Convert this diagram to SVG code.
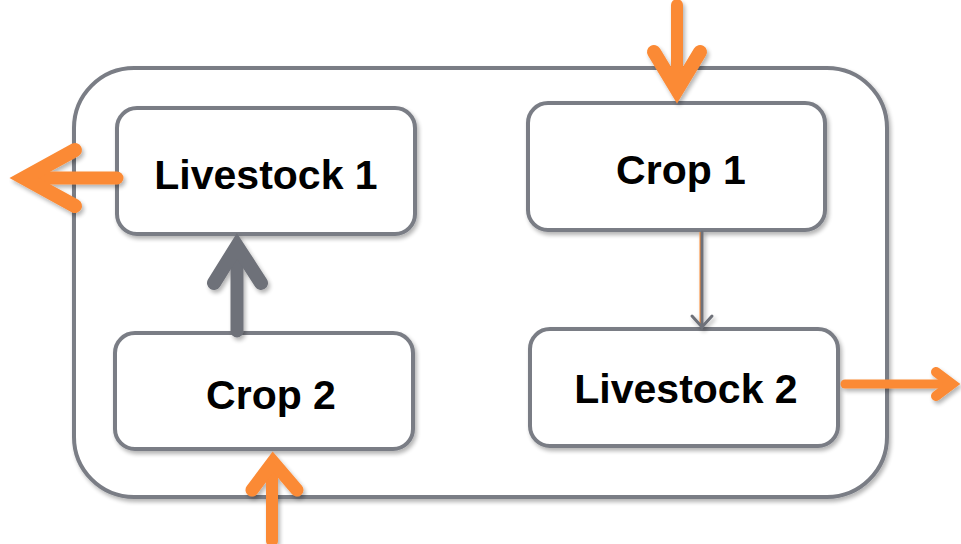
<svg xmlns="http://www.w3.org/2000/svg" width="961" height="544" viewBox="0 0 961 544">
<defs>
<filter id="sh" x="-10%" y="-10%" width="130%" height="130%">
<feGaussianBlur in="SourceAlpha" stdDeviation="2"/>
<feOffset dx="2" dy="3"/>
<feComponentTransfer><feFuncA type="linear" slope="0.3"/></feComponentTransfer>
<feMerge><feMergeNode/><feMergeNode in="SourceGraphic"/></feMerge>
</filter>
</defs>
<style>
.box{fill:#fff;stroke:#7a7d85;stroke-width:4}
.lbl{font-family:"Liberation Sans",Arial,sans-serif;font-weight:bold;font-size:41px;fill:#000;text-anchor:middle}
.or{fill:none;stroke:#fb8a35;stroke-linecap:round;stroke-linejoin:miter}
.gr{fill:none;stroke:#6e7179;stroke-linecap:round}
</style>
<g id="container">
<rect x="74" y="68" width="813" height="429" rx="60" class="box" filter="url(#sh)"/>
</g>
<g id="livestock1">
<rect x="117" y="108" width="298" height="126" rx="20" class="box" filter="url(#sh)"/>
<text x="266" y="189" class="lbl">Livestock 1</text>
</g>
<g id="crop1">
<rect x="528" y="103" width="297" height="127" rx="20" class="box" filter="url(#sh)"/>
<text x="681" y="184" class="lbl">Crop 1</text>
</g>
<g id="crop2">
<rect x="115" y="333" width="298" height="116" rx="20" class="box" filter="url(#sh)"/>
<text x="271" y="409" class="lbl">Crop 2</text>
</g>
<g id="livestock2">
<rect x="530" y="329" width="308" height="117" rx="20" class="box" filter="url(#sh)"/>
<text x="686" y="403" class="lbl">Livestock 2</text>
</g>
<g id="connectors" filter="url(#sh)">
<line x1="117" y1="178" x2="24" y2="178" class="or" stroke-width="13" stroke-linecap="butt"/>
<polyline points="75,150 24,178 75,206" class="or" stroke-width="14"/>
<line x1="677" y1="5" x2="677" y2="88" class="or" stroke-width="12" stroke-linecap="butt"/>
<polyline points="654,52 677,90 700,52" class="or" stroke-width="14"/>
<line x1="701" y1="232" x2="701" y2="326" stroke="#fb8a35" stroke-width="3"/>
<line x1="702" y1="232" x2="702" y2="326" class="gr" stroke-width="3"/>
<polyline points="692,316 702,327 712,316" class="gr" stroke-width="3"/>
<line x1="237" y1="331" x2="237" y2="250" class="gr" stroke-width="13" stroke-linecap="butt"/>
<polyline points="214,283 237,246 261,283" class="gr" stroke-width="14"/>
<line x1="272" y1="541" x2="272" y2="465" class="or" stroke-width="12" stroke-linecap="butt"/>
<polyline points="252,490 273,462 297,490" class="or" stroke-width="13"/>
<line x1="845" y1="384" x2="950" y2="384" class="or" stroke-width="9" stroke-linecap="butt"/>
<polyline points="936,372 952,384 936,396" class="or" stroke-width="10"/>
</g>
</svg>
